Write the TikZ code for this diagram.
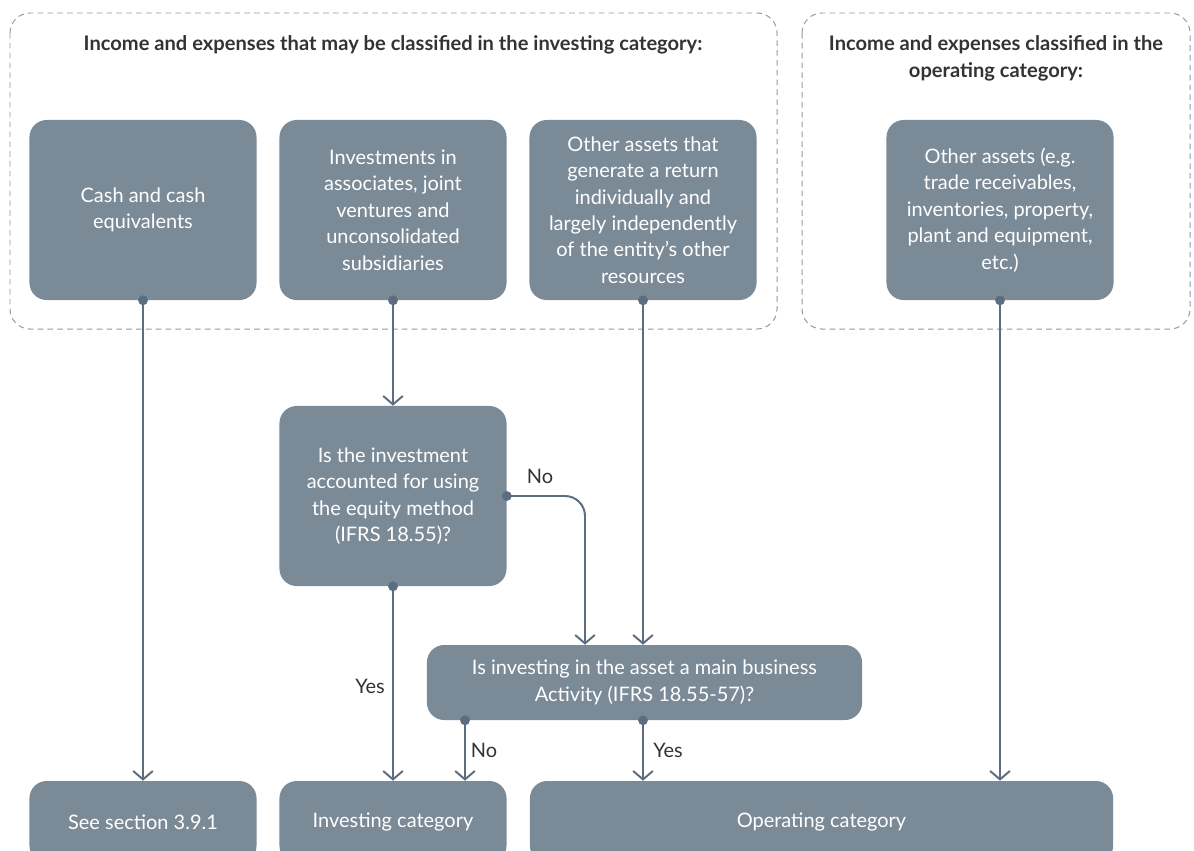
\documentclass[tikz,border=0pt]{standalone}
\usepackage{fontspec}
\setmainfont{Lato}
\usetikzlibrary{arrows.meta}

\definecolor{boxgrey}{HTML}{7B8A97}
\definecolor{linegrey}{HTML}{5C6D80}
\definecolor{dashgrey}{HTML}{8E9AA7}
\definecolor{textgrey}{HTML}{333333}

\begin{document}
\begin{tikzpicture}[x=0.025cm,y=-0.025cm,
			box node/.style={rectangle,rounded corners=0.43cm,fill=boxgrey,text=white,align=center,inner sep=0pt,minimum width=5.675cm,minimum height=4.5cm,font=\fontsize{14.2}{18.8}\selectfont},
			end node/.style={box node,minimum height=2.05cm},
			label node/.style={text=textgrey,inner sep=0pt,font=\fontsize{14.2}{18.8}\selectfont},
			title node/.style={text=textgrey,align=center,inner sep=0pt,font=\bfseries\fontsize{14.3}{19.2}\selectfont},
			group box/.style={draw=dashgrey,line width=0.7pt,dash pattern=on 4pt off 3pt,rounded corners=0.5cm},
			arr/.style={draw=linegrey,line width=1.4pt,-{Straight Barb[length=6pt,width=14pt]}}
			]
			
			\useasboundingbox (0,0) rectangle (1194,850);
			\clip (0,0) rectangle (1194,850);
			
			% dashed groups
			\draw[group box] (10,13) rectangle (777,329);
			\draw[group box] (802,13) rectangle (1190,329);
			\node[title node] (t1) at (393,45) {Income and expenses that may be classified in the investing category:};
			\node[title node] (t2) at (996,58) {Income and expenses classified in the\\operating category:};
			
			% top row
			\node[box node] (b1) at (143,210) {Cash and cash\\equivalents};
			\node[box node] (b2) at (393,210) {Investments in\\associates, joint\\ventures and\\unconsolidated\\subsidiaries};
			\node[box node] (b3) at (643,210) {Other assets that\\generate a return\\individually and\\largely independently\\of the entity's other\\resources};
			\node[box node] (b4) at (1000,210) {Other assets (e.g.\\trade receivables,\\inventories, property,\\plant and equipment,\\etc.)};
			
			% questions
			\node[box node] (d1) at (393,496) {Is the investment\\accounted for using\\the equity method\\(IFRS 18.55)?};
			\node[box node,minimum width=10.875cm,minimum height=1.875cm] (d2) at (644.5,682.5) {Is investing in the asset a main business\\Activity (IFRS 18.55-57)?};
			
			% results
			\node[end node] (see) at (143,822) {See section 3.9.1};
			\node[end node] (inv) at (393,822) {Investing category};
			\node[end node,minimum width=14.575cm] (op) at (821.5,822) {Operating category};
			
			\coordinate (sideX) at (585,0);
			\coordinate (noX) at (465,0);
			\coordinate (yesX) at (643,0);
			
			\draw[arr] (b1.south) -- (see.north);
			\draw[arr] (b2.south) -- (d1.north);
			\draw[arr] (b3.south) -- (b3.south |- d2.north);
			\draw[arr] (b4.south) -- (b4.south |- op.north);
			\draw[arr,rounded corners=0.5cm] (d1.east) -| (d2.north -| sideX);
			\draw[arr] (d1.south) -- (inv.north);
			\draw[arr] (d2.south -| noX) -- (noX |- inv.north);
			\draw[arr] (d2.south -| yesX) -- (yesX |- op.north);
			
			\foreach \p in {b1.south,b2.south,b3.south,b4.south,d1.east,d1.south,d2.south -| noX,d2.south -| yesX} {
				\fill[linegrey] (\p) circle (3.5pt);
			}
			
			\node[label node] (no1) at (540,476) {No};
			\node[label node] (yes1) at (370,686) {Yes};
			\node[label node] (no2) at (484,750) {No};
			\node[label node] (yes2) at (668,750) {Yes};
			\end{tikzpicture}
\end{document}
